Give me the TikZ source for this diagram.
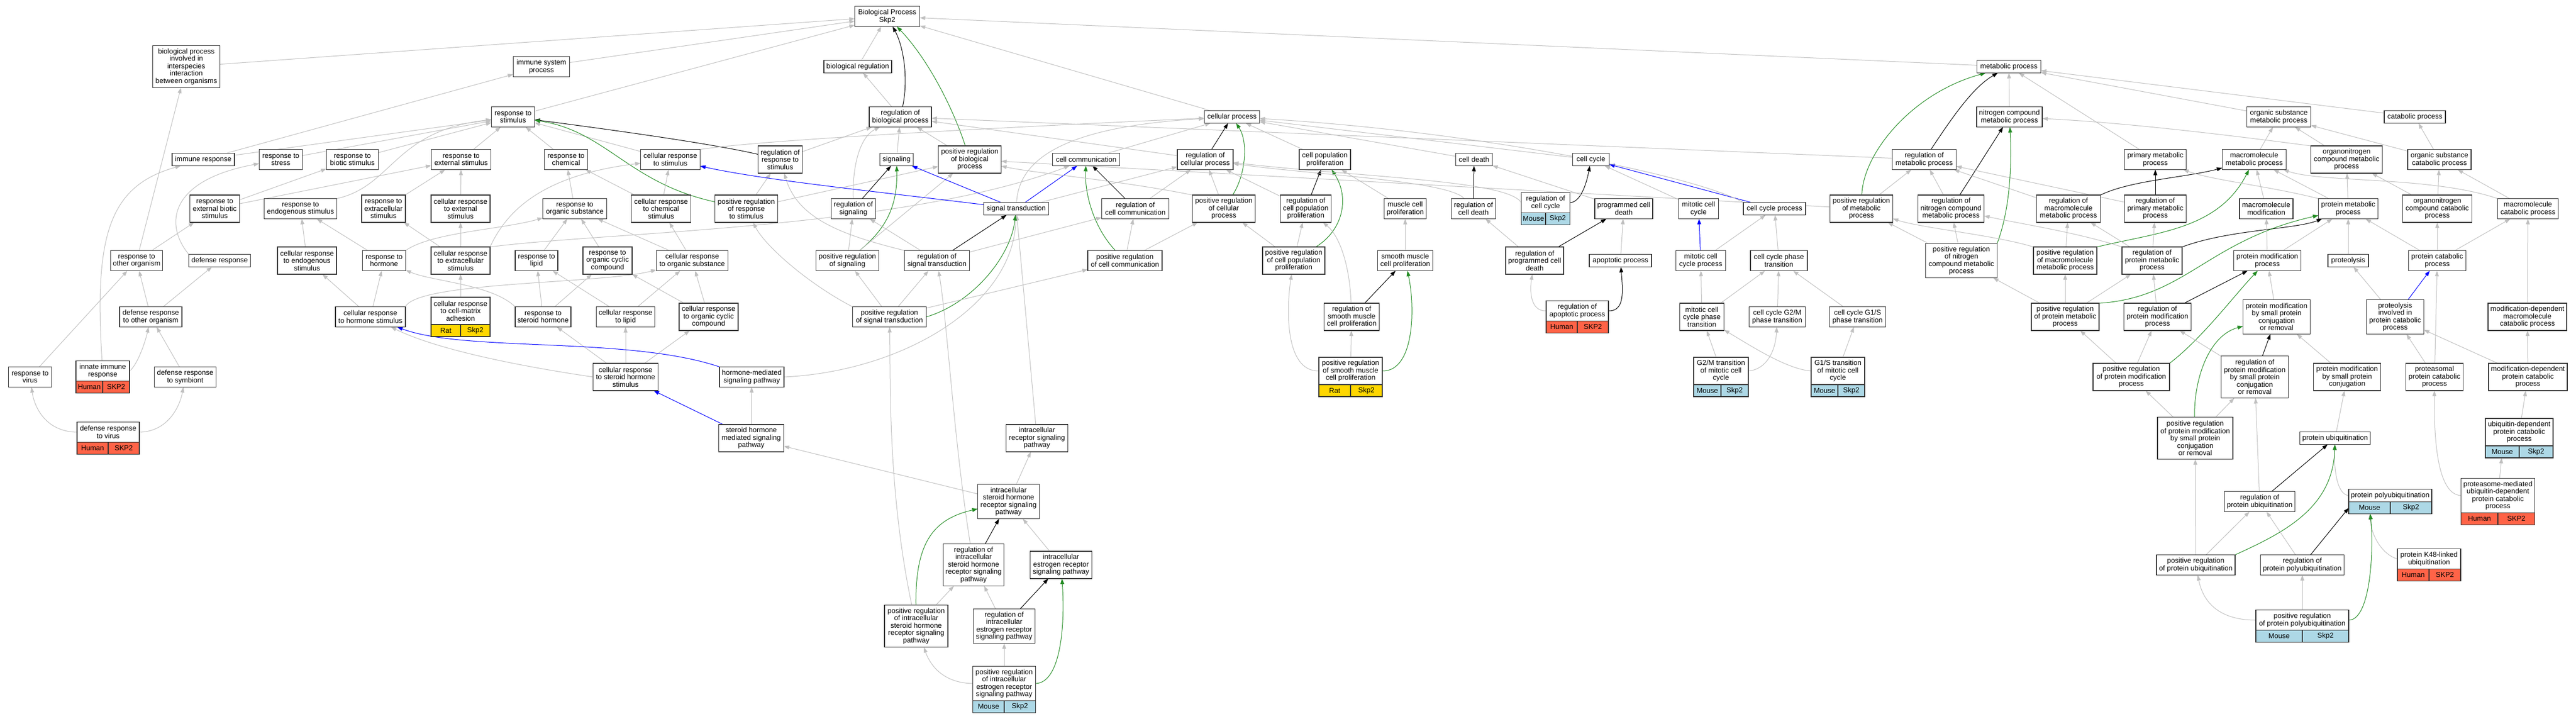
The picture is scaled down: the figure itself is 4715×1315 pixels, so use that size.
\documentclass[tikz,border=0pt]{standalone}
\usepackage{fontspec}
\setmainfont{Liberation Sans}
\usetikzlibrary{arrows.meta,backgrounds}
\definecolor{framegray}{RGB}{50,50,50}
\definecolor{edgegray}{RGB}{192,192,192}
\definecolor{posgreen}{RGB}{34,139,34}
\definecolor{humancol}{RGB}{255,99,71}
\definecolor{mousecol}{RGB}{173,216,230}
\definecolor{ratcol}{RGB}{255,215,0}
\begin{document}
\begin{tikzpicture}[x=1pt,y=-1pt,
    term/.style={draw=framegray, line width=1.4pt, fill=white, inner sep=0pt, outer sep=0pt, align=center, font=\fontsize{13}{13.5}\selectfont},
    l1/.style={minimum height=23pt}, l2/.style={minimum height=37pt}, l3/.style={minimum height=50pt},
    l4/.style={minimum height=63pt}, l5/.style={minimum height=77pt},
    cell/.style={term, minimum height=22pt, fill=#1},
    isa/.style={draw=edgegray, line width=1pt, -{Triangle[length=10pt,width=7pt]}},
    regs/.style={isa, draw=black},
    preg/.style={isa, draw=posgreen},
    partof/.style={isa, draw=blue}]
        \useasboundingbox (0,0) rectangle (4715,1315);
        \node[term,l2,minimum width=119pt] (bp) at (1624,30) {Biological Process\\Skp2};
        \node[term,l5,minimum width=123pt] (bpinter) at (341,122) {biological process\\involved in\\interspecies\\interaction\\between organisms};
        \node[term,l2,minimum width=103pt] (immsys) at (991,122) {immune system\\process};
        \node[term,l1,minimum width=124pt] (bioreg) at (1570,122) {biological regulation};
        \node[term,l1,minimum width=117pt] (metab) at (3677,122) {metabolic process};
        \node[term,l2,minimum width=79pt] (respstim) at (939,214) {response to\\stimulus};
        \node[term,l2,minimum width=114pt] (regbp) at (1648,214) {regulation of\\biological process};
        \node[term,l1,minimum width=101pt] (cellproc) at (2255,214) {cellular process};
        \node[term,l2,minimum width=120pt] (nitrometab) at (3678,214) {nitrogen compound\\metabolic process};
        \node[term,l2,minimum width=117pt] (orgsubmetab) at (4171,214) {organic substance\\metabolic process};
        \node[term,l1,minimum width=112pt] (catab) at (4420,214) {catabolic process};
        \node[term,l1,minimum width=114pt] (immresp) at (372,292) {immune response};
        \node[term,l2,minimum width=79pt] (respstress) at (514,292) {response to\\stress};
        \node[term,l2,minimum width=95pt] (respbiotic) at (645,292) {response to\\biotic stimulus};
        \node[term,l2,minimum width=109pt] (respext) at (844,292) {response to\\external stimulus};
        \node[term,l2,minimum width=79pt] (respchem) at (1036,292) {response to\\chemical};
        \node[term,l2,minimum width=109pt] (cellrespstim) at (1227,292) {cellular response\\to stimulus};
        \node[term,l3,minimum width=81pt] (regrespstim) at (1428,292) {regulation of\\response to\\stimulus};
        \node[term,l1,minimum width=61pt] (signaling) at (1641,292) {signaling};
        \node[term,l3,minimum width=115pt] (posregbp) at (1775,292) {positive regulation\\of biological\\process};
        \node[term,l1,minimum width=123pt] (cellcomm) at (1988,292) {cell communication};
        \node[term,l2,minimum width=102pt] (regcellproc) at (2206,292) {regulation of\\cellular process};
        \node[term,l2,minimum width=94pt] (cellpopprolif) at (2425,292) {cell population\\proliferation};
        \node[term,l1,minimum width=67pt] (celldeath) at (2698,292) {cell death};
        \node[term,l1,minimum width=67pt] (cellcycle) at (2912,292) {cell cycle};
        \node[term,l2,minimum width=117pt] (regmetab) at (3522,292) {regulation of\\metabolic process};
        \node[term,l2,minimum width=113pt] (primmetab) at (3945,292) {primary metabolic\\process};
        \node[term,l2,minimum width=117pt] (macromolmetab) at (4126,292) {macromolecule\\metabolic process};
        \node[term,l3,minimum width=131pt] (orgnitrometab) at (4295,292) {organonitrogen\\compound metabolic\\process};
        \node[term,l2,minimum width=116pt] (orgsubcatab) at (4465,292) {organic substance\\catabolic process};
        \node[term,l3,minimum width=91pt] (respextbiotic) at (393,382) {response to\\external biotic\\stimulus};
        \node[term,l2,minimum width=133pt] (respendo) at (550,382) {response to\\endogenous stimulus};
        \node[term,l3,minimum width=80pt] (respextracell) at (702,382) {response to\\extracellular\\stimulus};
        \node[term,l3,minimum width=108pt] (cellrespext) at (843,382) {cellular response\\to external\\stimulus};
        \node[term,l2,minimum width=117pt] (resporgsub) at (1052,382) {response to\\organic substance};
        \node[term,l3,minimum width=109pt] (cellrespchem) at (1210,382) {cellular response\\to chemical\\stimulus};
        \node[term,l3,minimum width=115pt] (posregrespstim) at (1366,382) {positive regulation\\of response\\to stimulus};
        \node[term,l2,minimum width=81pt] (regsignaling) at (1562,382) {regulation of\\signaling};
        \node[term,l1,minimum width=119pt] (sigtrans) at (1860,382) {signal transduction};
        \node[term,l2,minimum width=123pt] (regcellcomm) at (2078,382) {regulation of\\cell communication};
        \node[term,l3,minimum width=115pt] (posregcellproc) at (2240,382) {positive regulation\\of cellular\\process};
        \node[term,l3,minimum width=93pt] (regcellpop) at (2390,382) {regulation of\\cell population\\proliferation};
        \node[term,l2,minimum width=77pt] (muscleprolif) at (2572,382) {muscle cell\\proliferation};
        \node[term,l2,minimum width=81pt] (regcelldeath) at (2697,382) {regulation of\\cell death};
        \node[term,l2,minimum width=89pt] (regcellcycle) at (2829,371) {regulation of\\cell cycle};
        \node[cell=mousecol,minimum width=44.5pt,anchor=north east] (regcellcycleA) at (regcellcycle.south) {Mouse};
        \node[cell=mousecol,minimum width=44.5pt,anchor=north west] (regcellcycleB) at (regcellcycle.south) {Skp2};
        \node[term,l2,minimum width=106pt] (pcd) at (2972,382) {programmed cell\\death};
        \node[term,l2,minimum width=73pt] (mitcc) at (3109,382) {mitotic cell\\cycle};
        \node[term,l1,minimum width=114pt] (ccproc) at (3248,382) {cell cycle process};
        \node[term,l3,minimum width=115pt] (posregmetab) at (3407,382) {positive regulation\\of metabolic\\process};
        \node[term,l3,minimum width=121pt] (regnitro) at (3571,382) {regulation of\\nitrogen compound\\metabolic process};
        \node[term,l3,minimum width=117pt] (regmacro) at (3786,382) {regulation of\\macromolecule\\metabolic process};
        \node[term,l3,minimum width=113pt] (regprim) at (3945,382) {regulation of\\primary metabolic\\process};
        \node[term,l2,minimum width=98pt] (macromolmod) at (4148,382) {macromolecule\\modification};
        \node[term,l2,minimum width=109pt] (protmetab) at (4298,382) {protein metabolic\\process};
        \node[term,l3,minimum width=127pt] (orgnitrocatab) at (4461,382) {organonitrogen\\compound catabolic\\process};
        \node[term,l2,minimum width=111pt] (macromolcatab) at (4627,382) {macromolecule\\catabolic process};
        \node[term,l2,minimum width=95pt] (resporg) at (250,477) {response to\\other organism};
        \node[term,l1,minimum width=113pt] (defresp) at (402,477) {defense response};
        \node[term,l3,minimum width=108pt] (cellrespendo) at (562,477) {cellular response\\to endogenous\\stimulus};
        \node[term,l2,minimum width=79pt] (resphormone) at (703,477) {response to\\hormone};
        \node[term,l3,minimum width=108pt] (cellrespextracell) at (843,477) {cellular response\\to extracellular\\stimulus};
        \node[term,l2,minimum width=78pt] (resplipid) at (982,477) {response to\\lipid};
        \node[term,l3,minimum width=90pt] (resporgcyc) at (1112,477) {response to\\organic cyclic\\compound};
        \node[term,l2,minimum width=131pt] (cellresporgsub) at (1267,477) {cellular response\\to organic substance};
        \node[term,l2,minimum width=115pt] (posregsignaling) at (1551,477) {positive regulation\\of signaling};
        \node[term,l2,minimum width=119pt] (regsigtrans) at (1715,477) {regulation of\\signal transduction};
        \node[term,l2,minimum width=136pt] (posregcellcomm) at (2059,477) {positive regulation\\of cell communication};
        \node[term,l3,minimum width=114pt] (posregcellpop) at (2368,477) {positive regulation\\of cell population\\proliferation};
        \node[term,l2,minimum width=101pt] (smoothprolif) at (2572,477) {smooth muscle\\cell proliferation};
        \node[term,l3,minimum width=106pt] (regpcd) at (2809,477) {regulation of\\programmed cell\\death};
        \node[term,l1,minimum width=114pt] (apoptotic) at (2966,477) {apoptotic process};
        \node[term,l2,minimum width=91pt] (mitccproc) at (3113,477) {mitotic cell\\cycle process};
        \node[term,l2,minimum width=104pt] (ccphase) at (3256,477) {cell cycle phase\\transition};
        \node[term,l4,minimum width=131pt] (posregnitro) at (3590,477) {positive regulation\\of nitrogen\\compound metabolic\\process};
        \node[term,l3,minimum width=116pt] (posregmacro) at (3780,477) {positive regulation\\of macromolecule\\metabolic process};
        \node[term,l3,minimum width=110pt] (regprotmetab) at (3939,477) {regulation of\\protein metabolic\\process};
        \node[term,l2,minimum width=123pt] (protmod) at (4150,477) {protein modification\\process};
        \node[term,l1,minimum width=74pt] (proteolysis) at (4298,477) {proteolysis};
        \node[term,l2,minimum width=105pt] (protcatab) at (4461,477) {protein catabolic\\process};
        \node[term,l2,minimum width=114pt] (defrespother) at (276,580) {defense response\\to other organism};
        \node[term,l2,minimum width=128pt] (cellresphormone) at (678,580) {cellular response\\to hormone stimulus};
        \node[term,l3,minimum width=108pt] (cellrespcellmatrix) at (843,569) {cellular response\\to cell-matrix\\adhesion};
        \node[cell=ratcol,minimum width=54pt,anchor=north east] (cellrespcellmatrixA) at (cellrespcellmatrix.south) {Rat};
        \node[cell=ratcol,minimum width=54pt,anchor=north west] (cellrespcellmatrixB) at (cellrespcellmatrix.south) {Skp2};
        \node[term,l2,minimum width=102pt] (respsteroid) at (994,580) {response to\\steroid hormone};
        \node[term,l2,minimum width=107pt] (cellresplipid) at (1145,580) {cellular response\\to lipid};
        \node[term,l3,minimum width=108pt] (cellresporgcyc) at (1297,580) {cellular response\\to organic cyclic\\compound};
        \node[term,l2,minimum width=135pt] (posregsigtrans) at (1628,580) {positive regulation\\of signal transduction};
        \node[term,l3,minimum width=101pt] (regsmooth) at (2474,580) {regulation of\\smooth muscle\\cell proliferation};
        \node[term,l2,minimum width=114pt] (regapopt) at (2887,569) {regulation of\\apoptotic process};
        \node[cell=humancol,minimum width=57pt,anchor=north east] (regapoptA) at (regapopt.south) {Human};
        \node[cell=humancol,minimum width=57pt,anchor=north west] (regapoptB) at (regapopt.south) {SKP2};
        \node[term,l3,minimum width=81pt] (mitccphase) at (3115,580) {mitotic cell\\cycle phase\\transition};
        \node[term,l2,minimum width=103pt] (g2mphase) at (3253,580) {cell cycle G2/M\\phase transition};
        \node[term,l2,minimum width=103pt] (g1sphase) at (3400,580) {cell cycle G1/S\\phase transition};
        \node[term,l3,minimum width=124pt] (posregprotmetab) at (3780,580) {positive regulation\\of protein metabolic\\process};
        \node[term,l3,minimum width=123pt] (regprotmod) at (3949,580) {regulation of\\protein modification\\process};
        \node[term,l4,minimum width=123pt] (protmodsmall) at (4167,580) {protein modification\\by small protein\\conjugation\\or removal};
        \node[term,l4,minimum width=105pt] (proteolysiscatab) at (4384,580) {proteolysis\\involved in\\protein catabolic\\process};
        \node[term,l3,minimum width=144pt] (moddepmacrocatab) at (4626,580) {modification-dependent\\macromolecule\\catabolic process};
        \node[term,l2,minimum width=79pt] (respvirus) at (55,690) {response to\\virus};
        \node[term,l2,minimum width=98pt] (innate) at (188,679) {innate immune\\response};
        \node[cell=humancol,minimum width=49pt,anchor=north east] (innateA) at (innate.south) {Human};
        \node[cell=humancol,minimum width=49pt,anchor=north west] (innateB) at (innate.south) {SKP2};
        \node[term,l2,minimum width=113pt] (defrespsymb) at (339,690) {defense response\\to symbiont};
        \node[term,l3,minimum width=119pt] (cellrespsteroid) at (1145,690) {cellular response\\to steroid hormone\\stimulus};
        \node[term,l2,minimum width=118pt] (hormonesig) at (1376,690) {hormone-mediated\\signaling pathway};
        \node[term,l3,minimum width=116pt] (posregsmooth) at (2472,679) {positive regulation\\of smooth muscle\\cell proliferation};
        \node[cell=ratcol,minimum width=58pt,anchor=north east] (posregsmoothA) at (posregsmooth.south) {Rat};
        \node[cell=ratcol,minimum width=58pt,anchor=north west] (posregsmoothB) at (posregsmooth.south) {Skp2};
        \node[term,l3,minimum width=100pt] (g2mmit) at (3150,679) {G2/M transition\\of mitotic cell\\cycle};
        \node[cell=mousecol,minimum width=50pt,anchor=north east] (g2mmitA) at (g2mmit.south) {Mouse};
        \node[cell=mousecol,minimum width=50pt,anchor=north west] (g2mmitB) at (g2mmit.south) {Skp2};
        \node[term,l3,minimum width=98pt] (g1smit) at (3364,679) {G1/S transition\\of mitotic cell\\cycle};
        \node[cell=mousecol,minimum width=49pt,anchor=north east] (g1smitA) at (g1smit.south) {Mouse};
        \node[cell=mousecol,minimum width=49pt,anchor=north west] (g1smitB) at (g1smit.south) {Skp2};
        \node[term,l3,minimum width=140pt] (posregprotmod) at (3901,690) {positive regulation\\of protein modification\\process};
        \node[term,l5,minimum width=123pt] (regprotmodsmall) at (4127,690) {regulation of\\protein modification\\by small protein\\conjugation\\or removal};
        \node[term,l3,minimum width=123pt] (protmodsmallconj) at (4296,690) {protein modification\\by small protein\\conjugation};
        \node[term,l3,minimum width=105pt] (proteasomal) at (4456,690) {proteasomal\\protein catabolic\\process};
        \node[term,l3,minimum width=144pt] (moddepprotcatab) at (4627,690) {modification-dependent\\protein catabolic\\process};
        \node[term,l2,minimum width=114pt] (defrespvirus) at (198,791) {defense response\\to virus};
        \node[cell=humancol,minimum width=57pt,anchor=north east] (defrespvirusA) at (defrespvirus.south) {Human};
        \node[cell=humancol,minimum width=57pt,anchor=north west] (defrespvirusB) at (defrespvirus.south) {SKP2};
        \node[term,l3,minimum width=119pt] (steroidsig) at (1375,802) {steroid hormone\\mediated signaling\\pathway};
        \node[term,l3,minimum width=113pt] (intracellrecsig) at (1898,802) {intracellular\\receptor signaling\\pathway};
        \node[term,l5,minimum width=138pt] (posregprotmodsmall) at (4018,802) {positive regulation\\of protein modification\\by small protein\\conjugation\\or removal};
        \node[term,l1,minimum width=129pt] (protubiq) at (4274,802) {protein ubiquitination};
        \node[term,l3,minimum width=124pt] (ubiqdep) at (4611,791) {ubiquitin-dependent\\protein catabolic\\process};
        \node[cell=mousecol,minimum width=62pt,anchor=north east] (ubiqdepA) at (ubiqdep.south) {Mouse};
        \node[cell=mousecol,minimum width=62pt,anchor=north west] (ubiqdepB) at (ubiqdep.south) {Skp2};
        \node[term,l4,minimum width=113pt] (intracellsteroid) at (1846,918) {intracellular\\steroid hormone\\receptor signaling\\pathway};
        \node[term,l2,minimum width=129pt] (regprotubiq) at (4136,918) {regulation of\\protein ubiquitination};
        \node[term,l1,minimum width=152pt] (protpolyubiq) at (4375,907) {protein polyubiquitination};
        \node[cell=mousecol,minimum width=76pt,anchor=north east] (protpolyubiqA) at (protpolyubiq.south) {Mouse};
        \node[cell=mousecol,minimum width=76pt,anchor=north west] (protpolyubiqB) at (protpolyubiq.south) {Skp2};
        \node[term,l4,minimum width=135pt] (proteasomemed) at (4572,907) {proteasome-mediated\\ubiquitin-dependent\\protein catabolic\\process};
        \node[cell=humancol,minimum width=67.5pt,anchor=north east] (proteasomemedA) at (proteasomemed.south) {Human};
        \node[cell=humancol,minimum width=67.5pt,anchor=north west] (proteasomemedB) at (proteasomemed.south) {SKP2};
        \node[term,l5,minimum width=111pt] (regintracellsteroid) at (1782,1034) {regulation of\\intracellular\\steroid hormone\\receptor signaling\\pathway};
        \node[term,l3,minimum width=113pt] (intracellestrogen) at (1942,1034) {intracellular\\estrogen receptor\\signaling pathway};
        \node[term,l2,minimum width=144pt] (posregprotubiq) at (4019,1034) {positive regulation\\of protein ubiquitination};
        \node[term,l2,minimum width=153pt] (regprotpolyubiq) at (4214,1034) {regulation of\\protein polyubiquitination};
        \node[term,l2,minimum width=116pt] (k48) at (4446,1023) {protein K48-linked\\ubiquitination};
        \node[cell=humancol,minimum width=58pt,anchor=north east] (k48A) at (k48.south) {Human};
        \node[cell=humancol,minimum width=58pt,anchor=north west] (k48B) at (k48.south) {SKP2};
        \node[term,l5,minimum width=116pt] (posregintracellsteroid) at (1677,1146) {positive regulation\\of intracellular\\steroid hormone\\receptor signaling\\pathway};
        \node[term,l4,minimum width=113pt] (regintracellestrogen) at (1838,1146) {regulation of\\intracellular\\estrogen receptor\\signaling pathway};
        \node[term,l2,minimum width=170pt] (posregprotpolyubiq) at (4214,1135) {positive regulation\\of protein polyubiquitination};
        \node[cell=mousecol,minimum width=85pt,anchor=north east] (posregprotpolyubiqA) at (posregprotpolyubiq.south) {Mouse};
        \node[cell=mousecol,minimum width=85pt,anchor=north west] (posregprotpolyubiqB) at (posregprotpolyubiq.south) {Skp2};
        \node[term,l4,minimum width=115pt] (posregintracellestrogen) at (1838,1251) {positive regulation\\of intracellular\\estrogen receptor\\signaling pathway};
        \node[cell=mousecol,minimum width=57.5pt,anchor=north east] (posregintracellestrogenA) at (posregintracellestrogen.south) {Mouse};
        \node[cell=mousecol,minimum width=57.5pt,anchor=north west] (posregintracellestrogenB) at (posregintracellestrogen.south) {Skp2};
    \begin{pgfonlayer}{background}
        \fill[white] (0,0) rectangle (4715,1315);
        \draw[isa] (bpinter) -- (bp);
        \draw[isa] (immsys) -- (bp);
        \draw[isa] (respstim) -- (bp);
        \draw[isa] (bioreg) -- (bp);
        \draw[isa] (cellproc) -- (bp);
        \draw[isa] (metab) -- (bp);
        \draw[regs] (regbp) .. controls (1662,150) and (1656,90) .. (bp);
        \draw[preg] (posregbp) .. controls (1745,200) and (1700,110) .. (bp);
        \draw[isa] (immresp) -- (immsys);
        \draw[isa] (immresp) -- (respstim);
        \draw[isa] (respstress) -- (respstim);
        \draw[isa] (respbiotic) -- (respstim);
        \draw[isa] (respext) -- (respstim);
        \draw[isa] (respchem) -- (respstim);
        \draw[isa] (cellrespstim) -- (respstim);
        \draw[isa] (respendo.north east) .. controls (720,340) and (720,240) .. (respstim);
        \draw[regs] (regrespstim) .. controls (1300,262) and (1100,235) .. (respstim);
        \draw[preg] (posregrespstim) .. controls (1150,335) and (1110,240) .. (respstim);
        \draw[isa] (cellrespstim.north east) .. controls (1400,255) and (1900,230) .. (cellproc);
        \draw[isa] (regbp) -- (bioreg);
        \draw[isa] (regrespstim) -- (regbp);
        \draw[isa] (signaling) -- (regbp);
        \draw[isa] (posregbp) -- (regbp);
        \draw[isa] (regsignaling) .. controls (1560,300) and (1575,250) .. (regbp);
        \draw[isa] (regcellproc) -- (regbp);
        \draw[isa] (regmetab) -- (regbp);
        \draw[isa] (respextbiotic) -- (respbiotic);
        \draw[isa] (respextbiotic) -- (respext);
        \draw[isa] (respextracell) -- (respext);
        \draw[isa] (cellrespext) -- (respext);
        \draw[isa] (resporgsub) -- (respchem);
        \draw[isa] (cellrespchem) -- (respchem);
        \draw[isa] (cellrespchem) -- (cellrespstim);
        \draw[isa] (cellrespextracell.north east) .. controls (930,380) and (1000,320) .. (cellrespstim);
        \draw[isa] (cellrespextracell) -- (cellrespext);
        \draw[isa] (cellrespextracell) -- (respextracell);
        \draw[isa] (cellrespextracell.north east) .. controls (1100,425) and (1650,420) .. (cellcomm);
        \draw[isa] (posregrespstim) -- (regrespstim);
        \draw[isa] (posregrespstim) -- (posregbp);
        \draw[isa] (resporg) -- (bpinter);
        \draw[isa] (resporg) -- (respextbiotic);
        \draw[isa] (defresp.north west) .. controls (300,410) and (310,330) .. (respstress);
        \draw[isa] (defrespother) -- (resporg);
        \draw[isa] (defrespother) -- (defresp);
        \draw[isa] (respvirus) -- (resporg);
        \draw[isa] (innate) .. controls (172,430) and (200,340) .. (immresp);
        \draw[isa] (innate.east) .. controls (250,670) and (265,630) .. (defrespother);
        \draw[isa] (defrespsymb) -- (defrespother);
        \draw[isa] (defrespvirus.west) .. controls (80,790) and (62,740) .. (respvirus);
        \draw[isa] (defrespvirus.east) .. controls (310,790) and (330,740) .. (defrespsymb);
        \draw[isa] (cellrespendo) -- (respendo);
        \draw[isa] (resphormone) -- (respendo);
        \draw[isa] (resphormone.north east) .. controls (790,425) and (920,420) .. (resporgsub);
        \draw[isa] (resplipid) -- (resporgsub);
        \draw[isa] (resporgcyc) -- (resporgsub);
        \draw[isa] (cellresporgsub) -- (resporgsub);
        \draw[isa] (cellresporgsub) -- (cellrespchem);
        \draw[isa] (cellresphormone) -- (resphormone);
        \draw[isa] (cellresphormone) -- (cellrespendo);
        \draw[isa] (cellresphormone.north east) .. controls (765,515) and (1100,520) .. (cellresporgsub);
        \draw[isa] (cellrespcellmatrix) -- (cellrespextracell);
        \draw[isa] (respsteroid.north west) .. controls (900,520) and (790,515) .. (resphormone);
        \draw[isa] (respsteroid) -- (resplipid);
        \draw[isa] (respsteroid) -- (resporgcyc);
        \draw[isa] (cellresplipid) -- (resplipid);
        \draw[isa] (cellresplipid) -- (cellresporgsub);
        \draw[isa] (cellresporgcyc) -- (resporgcyc);
        \draw[isa] (cellresporgcyc) -- (cellresporgsub);
        \draw[isa] (cellrespsteroid) -- (respsteroid);
        \draw[isa] (cellrespsteroid) -- (cellresplipid);
        \draw[isa] (cellrespsteroid) -- (cellresporgcyc);
        \draw[isa] (cellrespsteroid.west) .. controls (950,670) and (800,640) .. (cellresphormone);
        \draw[partof] (hormonesig.north west) .. controls (1150,615) and (850,645) .. (cellresphormone);
        \draw[isa] (hormonesig.east) .. controls (1650,680) and (1855,560) .. (sigtrans);
        \draw[isa] (steroidsig) -- (hormonesig);
        \draw[partof] (steroidsig) -- (cellrespsteroid);
        \draw[isa] (intracellrecsig) -- (sigtrans);
        \draw[isa] (intracellsteroid) -- (intracellrecsig);
        \draw[isa] (intracellsteroid) -- (steroidsig);
        \draw[regs] (regintracellsteroid) -- (intracellsteroid);
        \draw[isa] (regintracellsteroid) .. controls (1745,800) and (1735,600) .. (regsigtrans);
        \draw[isa] (posregintracellsteroid) -- (regintracellsteroid);
        \draw[preg] (posregintracellsteroid) .. controls (1675,990) and (1710,950) .. (intracellsteroid);
        \draw[isa] (posregintracellsteroid) .. controls (1625,900) and (1630,700) .. (posregsigtrans);
        \draw[isa] (intracellestrogen) -- (intracellsteroid);
        \draw[isa] (regintracellestrogen) -- (regintracellsteroid);
        \draw[regs] (regintracellestrogen) -- (intracellestrogen);
        \draw[isa] (posregintracellestrogen.west) .. controls (1720,1250) and (1700,1210) .. (posregintracellsteroid);
        \draw[isa] (posregintracellestrogen) -- (regintracellestrogen);
        \draw[preg] (posregintracellestrogen.east) .. controls (1940,1250) and (1950,1150) .. (intracellestrogen);
        \draw[regs] (regsignaling) -- (signaling);
        \draw[preg] (posregsignaling) .. controls (1620,420) and (1643,380) .. (signaling);
        \draw[isa] (posregsignaling) -- (regsignaling);
        \draw[isa] (posregsignaling) -- (posregbp);
        \draw[isa] (regsigtrans) -- (regsignaling);
        \draw[isa] (regsigtrans.north west) .. controls (1540,430) and (1460,400) .. (regrespstim);
        \draw[regs] (regsigtrans) -- (sigtrans);
        \draw[isa] (regsigtrans) -- (regcellcomm);
        \draw[isa] (posregsigtrans) -- (posregsignaling);
        \draw[isa] (posregsigtrans) -- (regsigtrans);
        \draw[preg] (posregsigtrans.east) .. controls (1780,555) and (1850,470) .. (sigtrans);
        \draw[isa] (posregsigtrans.north west) .. controls (1480,520) and (1400,450) .. (posregrespstim);
        \draw[isa] (posregsigtrans) -- (posregcellcomm);
        \draw[partof] (sigtrans) .. controls (1600,350) and (1400,330) .. (cellrespstim);
        \draw[partof] (sigtrans) -- (signaling);
        \draw[partof] (sigtrans) -- (cellcomm);
        \draw[isa] (sigtrans) -- (regcellproc);
        \draw[isa] (sigtrans) .. controls (1865,290) and (1950,232) .. (cellproc);
        \draw[isa] (cellcomm) -- (cellproc);
        \draw[regs] (regcellcomm) -- (cellcomm);
        \draw[preg] (posregcellcomm) .. controls (2005,420) and (1985,360) .. (cellcomm);
        \draw[isa] (posregcellcomm) -- (regcellcomm);
        \draw[isa] (posregcellcomm) -- (posregcellproc);
        \draw[isa] (regcellcomm) -- (regcellproc);
        \draw[regs] (regcellproc) -- (cellproc);
        \draw[isa] (posregcellproc) -- (regcellproc);
        \draw[preg] (posregcellproc) .. controls (2280,320) and (2285,260) .. (cellproc);
        \draw[isa] (posregcellproc.north west) .. controls (2050,330) and (1900,318) .. (posregbp);
        \draw[isa] (posregmetab) -- (posregbp);
        \draw[isa] (regcellpop) -- (regcellproc);
        \draw[regs] (regcellpop) -- (cellpopprolif);
        \draw[isa] (posregcellpop) -- (regcellpop);
        \draw[isa] (posregcellpop) -- (posregcellproc);
        \draw[preg] (posregcellpop) .. controls (2460,420) and (2470,360) .. (cellpopprolif);
        \draw[isa] (cellpopprolif) -- (cellproc);
        \draw[isa] (muscleprolif) -- (cellpopprolif);
        \draw[isa] (smoothprolif) -- (muscleprolif);
        \draw[regs] (regsmooth) -- (smoothprolif);
        \draw[isa] (regsmooth) .. controls (2470,480) and (2450,430) .. (regcellpop);
        \draw[isa] (posregsmooth) -- (regsmooth);
        \draw[preg] (posregsmooth.east) .. controls (2590,680) and (2590,560) .. (smoothprolif);
        \draw[isa] (posregsmooth.west) .. controls (2350,680) and (2355,560) .. (posregcellpop);
        \draw[isa] (celldeath) -- (cellproc);
        \draw[regs] (regcelldeath) -- (celldeath);
        \draw[isa] (regcelldeath) .. controls (2650,330) and (2400,320) .. (regcellproc);
        \draw[isa] (regcellcycle.west) .. controls (2760,330) and (2500,325) .. (regcellproc);
        \draw[regs] (regcellcycle.east) .. controls (2895,370) and (2905,330) .. (cellcycle);
        \draw[isa] (pcd) -- (celldeath);
        \draw[regs] (regpcd) -- (pcd);
        \draw[isa] (regpcd) -- (regcelldeath);
        \draw[isa] (apoptotic) -- (pcd);
        \draw[isa] (regapopt.west) .. controls (2800,570) and (2800,530) .. (regpcd);
        \draw[regs] (regapopt.east) .. controls (2975,570) and (2970,530) .. (apoptotic);
        \draw[isa] (cellcycle) -- (cellproc);
        \draw[isa] (mitcc) -- (cellcycle);
        \draw[partof] (ccproc) -- (cellcycle);
        \draw[isa] (ccproc.north west) .. controls (3100,320) and (2700,240) .. (cellproc);
        \draw[isa] (mitccproc) -- (ccproc);
        \draw[partof] (mitccproc) -- (mitcc);
        \draw[isa] (ccphase) -- (ccproc);
        \draw[isa] (mitccphase) -- (mitccproc);
        \draw[isa] (mitccphase) -- (ccphase);
        \draw[isa] (g2mphase) -- (ccphase);
        \draw[isa] (g1sphase) -- (ccphase);
        \draw[isa] (g2mmit) -- (mitccphase);
        \draw[isa] (g2mmit.east) .. controls (3235,676) and (3250,640) .. (g2mphase);
        \draw[isa] (g1smit) -- (g1sphase);
        \draw[isa] (g1smit.west) .. controls (3270,676) and (3200,630) .. (mitccphase);
        \draw[isa] (nitrometab) -- (metab);
        \draw[regs] (regmetab) .. controls (3570,220) and (3610,160) .. (metab);
        \draw[preg] (posregmetab) .. controls (3410,280) and (3500,170) .. (metab);
        \draw[isa] (primmetab) -- (metab);
        \draw[isa] (orgsubmetab) -- (metab);
        \draw[isa] (catab) -- (metab);
        \draw[isa] (posregmetab) -- (regmetab);
        \draw[isa] (regnitro) -- (regmetab);
        \draw[regs] (regnitro) -- (nitrometab);
        \draw[isa] (regmacro) -- (regmetab);
        \draw[isa] (regprim) -- (regmetab);
        \draw[regs] (regmacro.north east) .. controls (3900,330) and (4000,325) .. (macromolmetab);
        \draw[regs] (regprim) -- (primmetab);
        \draw[isa] (posregnitro) -- (regnitro);
        \draw[isa] (posregnitro) -- (posregmetab);
        \draw[preg] (posregnitro.north east) .. controls (3680,380) and (3682,300) .. (nitrometab);
        \draw[isa] (posregmacro) -- (regmacro);
        \draw[isa] (posregmacro.north west) .. controls (3650,430) and (3520,418) .. (posregmetab);
        \draw[preg] (posregmacro.north east) .. controls (3950,425) and (4060,420) .. (macromolmetab);
        \draw[isa] (regprotmetab) -- (regmacro);
        \draw[isa] (regprotmetab) -- (regprim);
        \draw[isa] (regprotmetab.north west) .. controls (3800,425) and (3700,410) .. (regnitro);
        \draw[regs] (regprotmetab.north east) .. controls (4080,420) and (4200,420) .. (protmetab);
        \draw[isa] (posregprotmetab) -- (posregmacro);
        \draw[isa] (posregprotmetab) -- (posregnitro);
        \draw[isa] (posregprotmetab) -- (regprotmetab);
        \draw[preg] (posregprotmetab.north east) .. controls (4000,545) and (4040,440) .. (protmetab);
        \draw[isa] (regprotmod) -- (regprotmetab);
        \draw[regs] (regprotmod) -- (protmod);
        \draw[isa] (posregprotmod) -- (posregprotmetab);
        \draw[isa] (posregprotmod) -- (regprotmod);
        \draw[preg] (posregprotmod.north east) .. controls (4030,620) and (4090,540) .. (protmod);
        \draw[isa] (macromolmetab) -- (orgsubmetab);
        \draw[isa] (orgnitrometab) -- (orgsubmetab);
        \draw[isa] (orgnitrometab.north west) .. controls (4100,250) and (3900,225) .. (nitrometab);
        \draw[isa] (orgsubcatab) -- (orgsubmetab);
        \draw[isa] (orgsubcatab) -- (catab);
        \draw[isa] (macromolmod) -- (macromolmetab);
        \draw[isa] (protmetab) -- (macromolmetab);
        \draw[isa] (protmetab) -- (orgnitrometab);
        \draw[isa] (protmetab.north west) .. controls (4150,340) and (4050,330) .. (primmetab);
        \draw[isa] (orgnitrocatab) -- (orgnitrometab);
        \draw[isa] (orgnitrocatab) -- (orgsubcatab);
        \draw[isa] (macromolcatab.north west) .. controls (4450,322) and (4250,335) .. (macromolmetab);
        \draw[isa] (macromolcatab) -- (orgsubcatab);
        \draw[isa] (protmod) -- (macromolmod);
        \draw[isa] (protmod) -- (protmetab);
        \draw[isa] (proteolysis) -- (protmetab);
        \draw[isa] (protcatab) -- (protmetab);
        \draw[isa] (protcatab) -- (orgnitrocatab);
        \draw[isa] (protcatab) -- (macromolcatab);
        \draw[isa] (protmodsmall) -- (protmod);
        \draw[isa] (proteolysiscatab) -- (proteolysis);
        \draw[partof] (proteolysiscatab) -- (protcatab);
        \draw[isa] (moddepmacrocatab) -- (macromolcatab);
        \draw[regs] (regprotmodsmall) -- (protmodsmall);
        \draw[isa] (regprotmodsmall) -- (regprotmod);
        \draw[isa] (protmodsmallconj) -- (protmodsmall);
        \draw[isa] (proteasomal) -- (proteolysiscatab);
        \draw[isa] (proteasomal) -- (protcatab);
        \draw[isa] (moddepprotcatab) -- (moddepmacrocatab);
        \draw[isa] (moddepprotcatab) -- (proteolysiscatab);
        \draw[isa] (posregprotmodsmall) -- (posregprotmod);
        \draw[isa] (posregprotmodsmall) -- (regprotmodsmall);
        \draw[preg] (posregprotmodsmall) .. controls (4015,700) and (4040,615) .. (protmodsmall);
        \draw[isa] (protubiq) -- (protmodsmallconj);
        \draw[regs] (regprotubiq) -- (protubiq);
        \draw[isa] (regprotubiq) -- (regprotmodsmall);
        \draw[isa] (protpolyubiq.west) .. controls (4275,905) and (4272,850) .. (protubiq);
        \draw[isa] (posregprotubiq) -- (posregprotmodsmall);
        \draw[isa] (posregprotubiq) -- (regprotubiq);
        \draw[preg] (posregprotubiq.north east) .. controls (4180,975) and (4270,930) .. (protubiq);
        \draw[isa] (regprotpolyubiq) -- (regprotubiq);
        \draw[regs] (regprotpolyubiq) -- (protpolyubiqA.west);
        \draw[isa] (k48.west) .. controls (4360,1015) and (4340,980) .. (protpolyubiqA);
        \draw[isa] (posregprotpolyubiq.west) .. controls (4050,1135) and (4030,1090) .. (posregprotubiq);
        \draw[isa] (posregprotpolyubiq) -- (regprotpolyubiq);
        \draw[preg] (posregprotpolyubiq.east) .. controls (4340,1135) and (4345,1000) .. (protpolyubiqA);
        \draw[isa] (ubiqdep) -- (moddepprotcatab);
        \draw[isa] (proteasomemed) -- (ubiqdepA);
        \draw[isa] (proteasomemed.west) .. controls (4460,905) and (4455,800) .. (proteasomal);
    \end{pgfonlayer}
\end{tikzpicture}
\end{document}
